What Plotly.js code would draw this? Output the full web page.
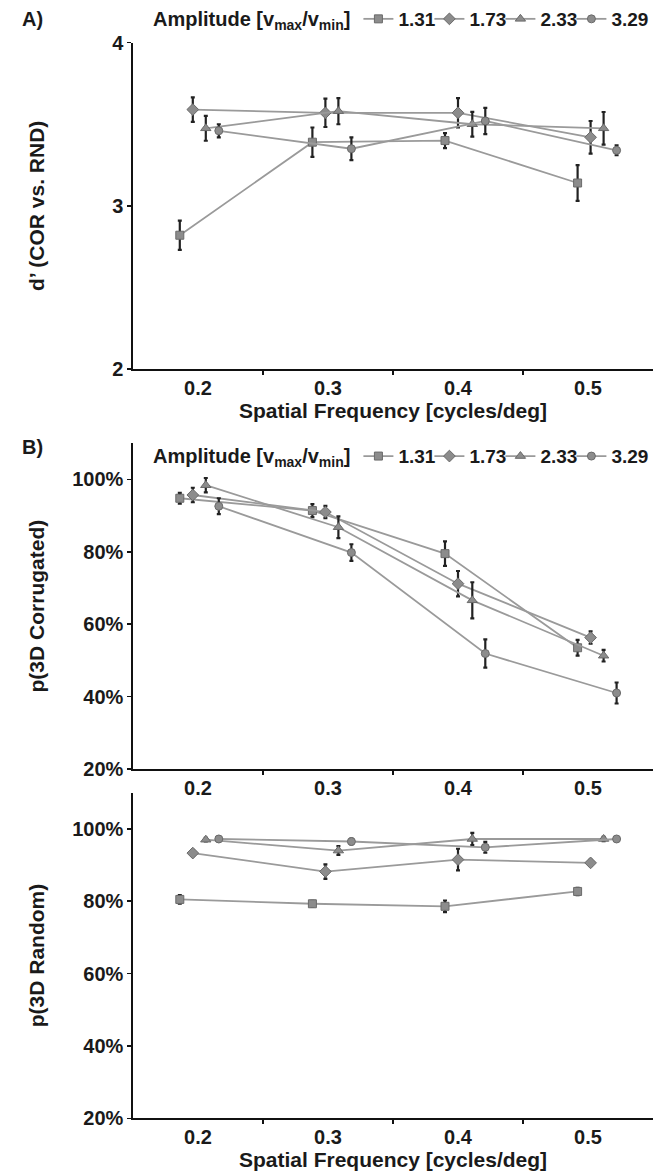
<!DOCTYPE html>
<html>
<head>
<meta charset="utf-8">
<script src="https://cdn.plot.ly/plotly-3.0.1.min.js"></script>
<style>html,body{margin:0;padding:0;background:#fff;}</style>
</head>
<body>
<div id="chart" style="width:663px;height:1176px;"></div>
<script>
// ---- categories / legend ----
const amplitudes = ['1.31', '1.73', '2.33', '3.29'];
const categoryTicks = [0.2, 0.3, 0.4, 0.5];
const categoryLabels = ['0.2', '0.3', '0.4', '0.5'];
const categoryBounds = [0.25, 0.35, 0.45];
const dprimeTicks = [2, 3, 4];
const dprimeLabels = ['2', '3', '4'];
const percentTicks = [20, 40, 60, 80, 100];
const percentLabels = ['20%', '40%', '60%', '80%', '100%'];

// spatial frequency actually tested for each amplitude
const sf_131 = [0.186, 0.288, 0.390, 0.492];
const sf_173 = [0.196, 0.298, 0.400, 0.502];
const sf_233 = [0.206, 0.308, 0.411, 0.512];
const sf_329 = [0.216, 0.318, 0.421, 0.522];

// ---- A) d' (COR vs. RND) ----
const dprime_131 = [2.82, 3.39, 3.40, 3.14];
const dprime_173 = [3.59, 3.57, 3.57, 3.42];
const dprime_233 = [3.475, 3.58, 3.50, 3.475];
const dprime_329 = [3.46, 3.35, 3.52, 3.34];
const dprimeErr_131 = [0.09, 0.09, 0.046, 0.11];
const dprimeErr_173 = [0.075, 0.087, 0.09, 0.10];
const dprimeErr_233 = [0.076, 0.08, 0.076, 0.10];
const dprimeErr_329 = [0.04, 0.07, 0.08, 0.03];

// ---- B) p(3D Corrugated) in % ----
const pCor_131 = [94.8, 91.4, 79.5, 53.5];
const pCor_173 = [95.7, 91.0, 71.2, 56.3];
const pCor_233 = [98.4, 86.8, 66.6, 51.3];
const pCor_329 = [92.6, 79.8, 51.9, 41.0];
const pCorErr_131 = [1.5, 1.8, 3.4, 2.2];
const pCorErr_173 = [2.0, 1.7, 3.5, 1.7];
const pCorErr_233 = [2.0, 3.0, 5.0, 1.6];
const pCorErr_329 = [2.2, 2.3, 3.9, 2.9];

// ---- B) p(3D Random) in % ----
const pRnd_131 = [80.5, 79.3, 78.6, 82.7];
const pRnd_173 = [93.3, 88.2, 91.5, 90.6];
const pRnd_233 = [97.0, 94.0, 97.2, 97.2];
const pRnd_329 = [97.2, 96.5, 94.9, 97.2];
const pRndErr_131 = [1.2, 0.8, 1.6, 1.0];
const pRndErr_173 = [0.8, 2.0, 3.0, 0.8];
const pRndErr_233 = [0.5, 1.2, 1.7, 0.6];
const pRndErr_329 = [0.8, 0.8, 1.5, 0.6];

// ---- styling ----
const FONT = 'Liberation Sans, Arial, Helvetica, sans-serif';
const symbols = ['square', 'diamond', 'triangle-up', 'circle'];
const markerSizes = [8, 9, 9, 8];
const legendWidths = [26, 26, 26, 42];
const lineColor = '#9a9a9a';
const fillColor = '#8c8c8c';
const edgeColor = '#6a6a6a';

const xs = [sf_131, sf_173, sf_233, sf_329];

function buildTraces(ys, errs, xa, ya, legendId, showLegend) {
  return ys.map((y, i) => ({
    type: 'scatter',
    mode: 'lines+markers',
    x: xs[i], y: y,
    xaxis: xa, yaxis: ya,
    name: amplitudes[i],
    legend: legendId,
    legendwidth: legendWidths[i],
    showlegend: showLegend,
    line: {color: lineColor, width: 1.8},
    marker: {symbol: symbols[i], size: markerSizes[i], color: fillColor,
             line: {color: edgeColor, width: 1}},
    error_y: {type: 'data', array: errs[i], visible: true,
              color: '#222', thickness: 2.2, width: 2}
  }));
}

const traces = [].concat(
  buildTraces([dprime_131, dprime_173, dprime_233, dprime_329],
              [dprimeErr_131, dprimeErr_173, dprimeErr_233, dprimeErr_329],
              'x', 'y', 'legend', true),
  buildTraces([pCor_131, pCor_173, pCor_233, pCor_329],
              [pCorErr_131, pCorErr_173, pCorErr_233, pCorErr_329],
              'x2', 'y2', 'legend2', true),
  buildTraces([pRnd_131, pRnd_173, pRnd_233, pRnd_329],
              [pRndErr_131, pRndErr_173, pRndErr_233, pRndErr_329],
              'x3', 'y3', 'legend2', false)
);

const tickFont = {family: FONT, size: 20, weight: 'bold', color: '#1a1a1a'};
const titleFont = {family: FONT, size: 21, weight: 'bold', color: '#1a1a1a'};

function xAxis(anchor, title) {
  const ax = {
    anchor: anchor, domain: [0, 1], range: [0.15, 0.55],
    tickmode: 'array', tickvals: categoryTicks, ticktext: categoryLabels,
    ticks: '', ticklabelstandoff: 0,
    minor: {tickmode: 'array', tickvals: categoryBounds, ticks: 'outside',
            ticklen: 4, tickwidth: 1.5, tickcolor: '#111', showgrid: false},
    showline: true, linecolor: '#111', linewidth: 1.6,
    showgrid: false, zeroline: false, tickfont: tickFont
  };
  if (title) ax.title = {text: title, font: titleFont, standoff: 4};
  return ax;
}
function yAxis(anchor, domain, range, vals, labels, title, standoff) {
  return {
    anchor: anchor, domain: domain, range: range,
    tickmode: 'array', tickvals: vals, ticktext: labels,
    ticks: 'outside', ticklen: 4, tickwidth: 1.5, tickcolor: '#111',
    showline: true, linecolor: '#111', linewidth: 1.6,
    showgrid: false, zeroline: false, tickfont: tickFont,
    title: {text: title, font: titleFont, standoff: standoff}
  };
}

const H = 1176, L = 133, PW = 520;
const legendCommon = {
  orientation: 'h', xanchor: 'left', yanchor: 'middle',
  font: {family: FONT, size: 19, weight: 'bold', color: '#1a1a1a'},
  bgcolor: 'rgba(0,0,0,0)', borderwidth: 0,
  traceorder: 'normal', itemclick: false,
  title: {text: 'Amplitude [v<sub>max</sub>/v<sub>min</sub>]', side: 'left',
          font: {family: FONT, size: 20, weight: 'bold', color: '#1a1a1a'}}
};

const layout = {
  width: 663, height: 1176,
  margin: {l: L, r: 10, t: 0, b: 0},
  paper_bgcolor: '#fff', plot_bgcolor: '#fff',
  showlegend: true,
  xaxis: xAxis('y', 'Spatial Frequency [cycles/deg]'),
  yaxis: yAxis('x', [1 - 367.7 / H, 1 - 40.7 / H], [2, 4], dprimeTicks, dprimeLabels, 'd’ (COR vs. RND)', 62),
  xaxis2: xAxis('y2', null),
  yaxis2: yAxis('x2', [1 - 768.3 / H, 1 - 442 / H], [20, 110], percentTicks, percentLabels, 'p(3D Corrugated)', 22),
  xaxis3: xAxis('y3', 'Spatial Frequency [cycles/deg]'),
  yaxis3: yAxis('x3', [1 - 1118.3 / H, 1 - 792 / H], [20, 110], percentTicks, percentLabels, 'p(3D Random)', 22),
  legend: Object.assign({}, legendCommon, {x: (151 - L) / PW, y: 1 - 17 / H}),
  legend2: Object.assign({}, legendCommon, {x: (151 - L) / PW, y: 1 - 455 / H}),
  annotations: [
    {text: 'A)', xref: 'paper', yref: 'paper', x: (20 - L) / PW, y: 1 - 17 / H,
     xanchor: 'left', yanchor: 'middle', showarrow: false,
     font: {family: FONT, size: 20, weight: 'bold', color: '#1a1a1a'}},
    {text: 'B)', xref: 'paper', yref: 'paper', x: (20 - L) / PW, y: 1 - 446 / H,
     xanchor: 'left', yanchor: 'middle', showarrow: false,
     font: {family: FONT, size: 20, weight: 'bold', color: '#1a1a1a'}}
  ]
};

Plotly.newPlot('chart', traces, layout, {displayModeBar: false, staticPlot: true});
</script>
</body>
</html>
